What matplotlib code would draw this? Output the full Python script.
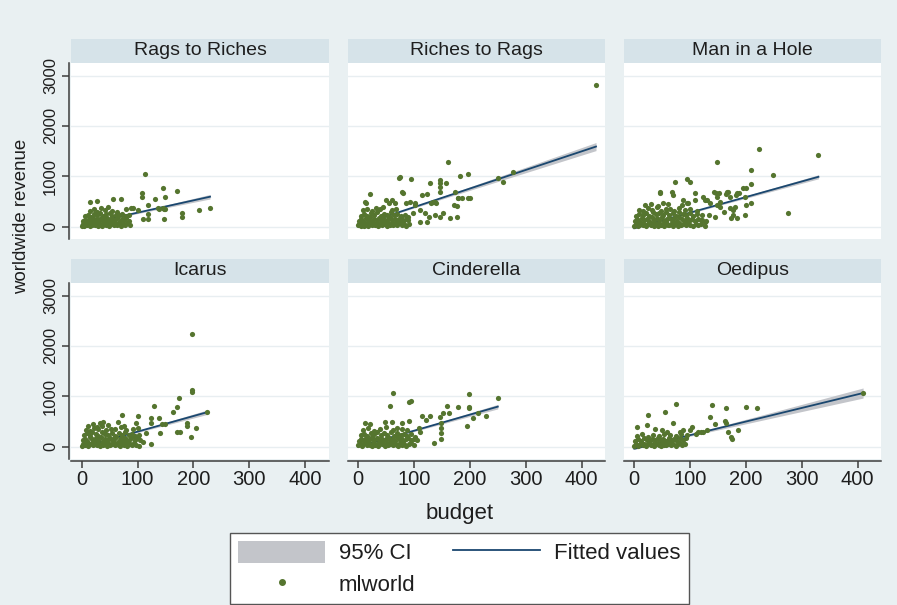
import numpy as np
import matplotlib.pyplot as plt
from matplotlib.patches import Patch, Rectangle
from matplotlib.lines import Line2D

# ==========================
# Data
# ==========================
panel_titles = ["Rags to Riches", "Riches to Rags", "Man in a Hole",
                "Icarus", "Cinderella", "Oedipus"]

# Rags to Riches
rags_budget = [
    1, 3, 5, 7, 9, 11, 14, 16, 18, 21, 24, 26, 29, 31, 34, 37, 40, 43, 46, 49, 52, 55, 58, 61, 64, 67, 70, 74, 78, 82, 86,
    2, 6, 10, 13, 17, 20, 24, 27, 31, 35, 38, 42, 45, 49, 53, 56, 60, 64, 68, 72, 76, 80, 85,
    6, 11, 17, 22, 28, 33, 38, 44, 50, 55, 61, 66, 72, 78, 84,
    15, 22, 28, 35, 41, 47, 55, 63,
    114, 14, 28, 56, 70, 79, 89, 100, 108, 108,
    119, 131, 145, 150, 170, 110, 119, 148, 148, 139,
    118, 150, 179, 179, 210, 230, 137, 146, 92, 44,
]
rags_revenue = [
    20, 45, 10, 60, 30, 75, 15, 50, 35, 80, 25, 55, 10, 65, 40, 20, 70, 30, 55, 15, 45, 80, 25, 60, 35, 70, 20, 50, 40, 65, 30,
    110, 140, 100, 160, 120, 175, 105, 150, 130, 170, 115, 145, 180, 110, 160, 125, 140, 170, 110, 150, 130, 165, 120,
    210, 240, 200, 260, 230, 280, 215, 250, 270, 205, 240, 225, 260, 210, 235,
    310, 350, 300, 380, 330, 400, 320, 290,
    1041, 485, 512, 551, 551, 352, 378, 332, 676, 596,
    425, 551, 763, 596, 710, 147, 147, 147, 346, 346,
    252, 346, 265, 199, 332, 378, 365, 365, 365, 120,
]

# Riches to Rags
riches_budget = [
    0, 2, 4, 6, 8, 10, 12, 14, 16, 18, 20, 22, 25, 28, 30, 33, 36, 39, 42, 45, 48, 51, 54, 57, 60, 63, 66, 70, 74, 78, 82, 86, 90,
    1, 5, 9, 13, 17, 21, 25, 29, 33, 37, 41, 45, 49, 53, 57, 61, 65, 69, 73, 77, 81, 85, 89,
    4, 10, 16, 22, 28, 34, 40, 46, 52, 58, 64, 70, 76, 84,
    8, 15, 24, 31, 38, 45, 60, 68,
    21, 12, 50, 55, 78, 81, 75, 73, 94, 93,
    102, 115, 124, 128, 146, 146, 146, 146, 158, 160,
    182, 197, 134, 140, 173, 179, 197, 171, 110, 120,
    126, 137, 146, 152, 164, 176, 111, 123, 250, 259,
    277, 426, 65, 86, 101, 131, 137, 179, 186, 201,
    176, 13, 60, 89, 98,
]
riches_revenue = [
    30, 60, 10, 45, 80, 20, 55, 35, 70, 15, 50, 90, 25, 60, 40, 75, 20, 55, 30, 85, 45, 15, 65, 35, 80, 25, 55, 40, 70, 30, 60, 20, 50,
    120, 150, 110, 170, 135, 190, 115, 160, 140, 180, 125, 165, 105, 150, 190, 130, 160, 115, 145, 175, 120, 155, 130,
    220, 250, 205, 270, 230, 290, 215, 260, 240, 300, 225, 255, 210, 240,
    330, 360, 320, 380, 345, 400, 330, 350,
    644, 485, 531, 471, 696, 663, 994, 962, 942, 497,
    431, 630, 650, 862, 928, 862, 795, 696, 862, 1286,
    1014, 1041, 497, 477, 696, 564, 564, 431, 332, 266,
    199, 232, 199, 266, 167, 199, 99, 99, 975, 895,
    1094, 2805, 464, 464, 464, 477, 497, 564, 564, 564,
    418, 464, 530, 199, 278,
]

# Man in a Hole
man_budget = [
    0, 3, 6, 9, 12, 15, 18, 21, 24, 27, 30, 33, 36, 39, 42, 45, 48, 51, 54, 57, 60, 63, 66, 69, 72, 75, 78, 81, 84, 88, 92, 96, 100, 105, 110, 115, 120, 126,
    1, 5, 9, 14, 18, 23, 27, 32, 36, 41, 45, 50, 54, 59, 63, 68, 72, 77, 81, 86, 90, 95, 99, 104, 109, 114, 120, 128,
    3, 9, 15, 21, 27, 33, 39, 45, 51, 57, 63, 69, 75, 81, 87, 93, 99, 106, 113, 121,
    8, 16, 24, 32, 40, 48, 56, 64, 72, 80, 90, 100, 112,
    20, 30, 42, 52, 60, 85, 95,
    149, 73, 94, 100, 46, 46, 67, 70, 109, 109,
    88, 97, 127, 136, 151, 148, 166, 171, 184, 171,
    177, 184, 201, 199, 200, 154, 160, 133, 145, 122,
    127, 224, 330, 209, 249, 209, 195, 188, 183, 275,
    209, 198, 174, 180, 177, 142, 146, 168, 164, 124,
    130, 154, 148,
]
man_revenue = [
    20, 55, 10, 40, 75, 25, 60, 15, 45, 80, 30, 65, 10, 50, 20, 70, 35, 55, 15, 85, 40, 25, 60, 10, 75, 45, 20, 65, 35, 55, 25, 70, 40, 15, 60, 30, 50, 20,
    120, 160, 105, 180, 135, 150, 115, 190, 140, 170, 125, 185, 110, 155, 175, 130, 165, 120, 190, 145, 115, 175, 135, 160, 120, 150, 130, 110,
    220, 260, 235, 280, 210, 300, 245, 270, 225, 290, 240, 265, 215, 285, 250, 230, 270, 220, 255, 235,
    340, 310, 370, 330, 390, 320, 360, 345, 310, 380, 330, 355, 320,
    430, 460, 420, 480, 445, 430, 470,
    1286, 895, 942, 882, 663, 696, 696, 630, 663, 531,
    531, 464, 531, 464, 663, 597, 696, 597, 663, 365,
    232, 166, 763, 597, 431, 398, 298, 232, 199, 133,
    99, 1545, 1419, 1127, 1028, 849, 762, 676, 630, 265,
    464, 232, 166, 398, 332, 696, 663, 696, 643, 597,
    530, 497, 431,
]

# Icarus
icarus_budget = [
    0, 3, 6, 9, 12, 15, 18, 21, 24, 27, 30, 33, 36, 39, 42, 45, 48, 51, 54, 57, 60, 63, 66, 69, 72, 75, 78, 81, 84, 87, 90, 94, 98, 102,
    2, 6, 10, 14, 18, 22, 26, 30, 34, 38, 42, 46, 50, 54, 58, 62, 66, 70, 74, 78, 82, 86, 90, 95, 100, 105,
    4, 9, 14, 19, 25, 30, 36, 42, 48, 54, 60, 66, 72, 78, 84, 90, 96, 102,
    8, 15, 22, 29, 36, 44, 52, 60, 70, 80, 92, 100,
    12, 20, 27, 48, 75,
    198, 198, 198, 174, 129, 170, 164, 224, 73, 101,
    65, 125, 139, 125, 144, 150, 98, 188, 188, 204,
    170, 176, 140, 195, 125, 110, 116, 33, 39,
]
icarus_revenue = [
    15, 50, 30, 70, 10, 45, 80, 25, 60, 35, 75, 20, 55, 40, 85, 15, 65, 30, 50, 90, 25, 60, 40, 15, 70, 35, 80, 20, 55, 45, 30, 65, 40, 20,
    130, 160, 110, 185, 145, 120, 170, 135, 195, 115, 160, 140, 180, 125, 150, 190, 110, 165, 140, 175, 120, 155, 185, 130, 165, 140,
    230, 270, 210, 290, 245, 220, 300, 260, 235, 280, 215, 265, 240, 295, 225, 255, 210, 240,
    340, 320, 380, 350, 410, 330, 360, 345, 390, 330, 350, 370,
    420, 445, 400, 430, 410,
    2241, 1127, 1094, 975, 815, 796, 696, 683, 630, 617,
    497, 564, 564, 464, 451, 451, 477, 464, 418, 378,
    298, 298, 265, 186, 53, 99, 265, 464, 484,
]

# Cinderella
cinderella_budget = [
    0, 3, 6, 9, 12, 15, 18, 21, 24, 27, 30, 33, 36, 39, 42, 45, 48, 51, 54, 57, 60, 63, 66, 69, 72, 75, 78, 82, 86, 90, 95, 99,
    1, 5, 9, 13, 17, 21, 25, 29, 33, 37, 41, 45, 49, 53, 57, 61, 65, 69, 73, 77, 81, 85, 89, 94, 99,
    4, 10, 16, 22, 28, 34, 40, 46, 52, 58, 64, 70, 76, 82, 88, 95,
    8, 18, 28, 38, 50, 62, 70, 78, 88,
    63, 56, 90, 94, 198, 250, 159, 179, 199, 199,
    151, 163, 215, 229, 206, 194, 146, 114, 122, 128,
    149, 149, 149, 148, 136, 12, 21, 48, 60, 78,
    90, 108, 111, 102, 106,
]
cinderella_revenue = [
    30, 60, 15, 50, 80, 25, 65, 40, 10, 70, 35, 55, 20, 85, 45, 60, 15, 75, 30, 50, 80, 25, 60, 40, 15, 70, 35, 55, 20, 45, 65, 30,
    120, 160, 135, 180, 110, 150, 190, 125, 165, 140, 175, 115, 155, 185, 130, 160, 120, 190, 145, 170, 115, 150, 180, 135, 160,
    230, 260, 215, 280, 245, 300, 225, 265, 240, 290, 220, 270, 235, 255, 215, 245,
    340, 380, 320, 360, 400, 335, 370, 350, 330,
    1061, 815, 888, 908, 1048, 975, 809, 782, 796, 762,
    676, 663, 663, 610, 564, 418, 597, 610, 530, 610,
    464, 365, 278, 146, 80, 464, 444, 497, 497, 477,
    517, 365, 298, 199, 133,
]

# Oedipus
oedipus_budget = [
    0, 3, 6, 9, 12, 15, 18, 21, 24, 27, 30, 33, 36, 39, 42, 45, 48, 51, 54, 57, 60, 63, 66, 70, 74, 78, 82, 86, 90,
    2, 7, 12, 17, 22, 27, 32, 37, 42, 47, 52, 57, 62, 67, 72, 77, 82, 88,
    5, 14, 24, 34, 44, 54, 64, 74, 84, 95,
    92, 110, 120, 130,
    410, 74, 140, 164, 200, 219, 55, 25, 136, 163,
    164, 69, 22, 4, 37, 49, 58, 145, 103, 100,
    168, 186, 173, 175, 115, 124, 82, 88,
]
oedipus_revenue = [
    20, 50, 10, 40, 70, 25, 55, 15, 45, 80, 30, 60, 20, 50, 75, 35, 10, 65, 40, 25, 55, 85, 30, 60, 20, 45, 70, 35, 50,
    120, 150, 105, 170, 135, 115, 160, 140, 180, 125, 150, 110, 170, 135, 155, 120, 165, 140,
    220, 250, 200, 240, 215, 260, 230, 205, 245, 230,
    170, 260, 300, 330,
    1061, 842, 829, 762, 796, 762, 696, 630, 597, 517,
    477, 477, 431, 398, 345, 332, 298, 451, 398, 332,
    298, 332, 199, 146, 298, 298, 298, 332,
]

# fitted line ends and 95% CI half width at the far end
fit_x_lo = [0, 0, 0, 0, 0, 0]
fit_x_hi = [230, 426, 330, 225, 250, 410]
fit_y_lo = [35, 20, -30, -10, 0, -40]
fit_y_hi = [595, 1590, 990, 685, 795, 1065]
ci_end = [45, 80, 40, 45, 45, 100]
ci_mid = 12

budgets = [rags_budget, riches_budget, man_budget,
           icarus_budget, cinderella_budget, oedipus_budget]
revenues = [rags_revenue, riches_revenue, man_revenue,
            icarus_revenue, cinderella_revenue, oedipus_revenue]

# ==========================
# Style
# ==========================
plt.rcParams['font.family'] = ['Liberation Sans', 'DejaVu Sans']

BG = '#e9f0f2'
HEADER = '#d6e3e9'
GREEN = '#55752f'
NAVY = '#1a476f'
CI_COLOR = '#c3c5ca'
GRID = '#e8eef1'
AXIS = '#3c3c3c'
TEXT = '#1e1e1e'

W, H = 897, 605
XLIM = (-19, 443)
YLIM = (-250, 3255)
PX_X = 0.558    # pixels per budget unit
PX_Y = 0.0504   # pixels per revenue unit
col_zero = [81.7, 358.3, 634.3]
row_zero = [226.7, 446.7]


def fig_box(x_px, top_px, w_px, h_px):
    return [x_px / W, 1 - (top_px + h_px) / H, w_px / W, h_px / H]


fig = plt.figure(figsize=(W / 100, H / 100), dpi=100, facecolor=BG)

for i, title in enumerate(panel_titles):
    r, c = divmod(i, 3)
    left = col_zero[c] + XLIM[0] * PX_X
    width = (XLIM[1] - XLIM[0]) * PX_X
    top = row_zero[r] - YLIM[1] * PX_Y
    height = (YLIM[1] - YLIM[0]) * PX_Y

    ax = fig.add_axes(fig_box(left, top, width, height))
    ax.set_facecolor('white')
    ax.set_xlim(*XLIM)
    ax.set_ylim(*YLIM)

    # CI band and fitted line
    xs = np.linspace(fit_x_lo[i], fit_x_hi[i], 60)
    ys = fit_y_lo[i] + (fit_y_hi[i] - fit_y_lo[i]) * (xs - fit_x_lo[i]) / (fit_x_hi[i] - fit_x_lo[i])
    xc = 40
    t = (xs - xc) / (fit_x_hi[i] - xc)
    hw = np.sqrt(ci_mid ** 2 + (ci_end[i] ** 2 - ci_mid ** 2) * t ** 2)
    ax.fill_between(xs, ys - hw, ys + hw, color=CI_COLOR, lw=0, zorder=2)
    ax.plot([fit_x_lo[i], fit_x_hi[i]], [fit_y_lo[i], fit_y_hi[i]],
            color=NAVY, lw=1.3, zorder=2.5)

    # scatter
    ax.scatter(budgets[i], revenues[i], s=14, color=GREEN, linewidths=0, zorder=3)

    # axes
    ax.set_yticks([0, 1000, 2000, 3000])
    ax.set_xticks([0, 100, 200, 300, 400])
    ax.set_axisbelow(True)
    ax.yaxis.grid(True, color=GRID, lw=1.0)
    for s in ['top', 'right']:
        ax.spines[s].set_visible(False)

    if c == 0:
        ax.spines['left'].set_position(('outward', 1.5))
        ax.spines['left'].set_color(AXIS)
        ax.spines['left'].set_linewidth(1.1)
        ax.tick_params(axis='y', length=5, width=1.1, color=AXIS,
                       labelsize=12, labelcolor=TEXT, labelrotation=90, pad=3)
        for lab in ax.get_yticklabels():
            lab.set_va('center')
    else:
        ax.spines['left'].set_visible(False)
        ax.tick_params(axis='y', left=False, labelleft=False)

    if r == 1:
        ax.spines['bottom'].set_position(('outward', 1.5))
        ax.spines['bottom'].set_color(AXIS)
        ax.spines['bottom'].set_linewidth(1.1)
        ax.tick_params(axis='x', length=5, width=1.1, color=AXIS,
                       labelsize=14.5, labelcolor=TEXT, pad=1)
    else:
        ax.spines['bottom'].set_visible(False)
        ax.tick_params(axis='x', bottom=False, labelbottom=False)

    # panel header
    fig.add_artist(Rectangle((left / W, 1 - top / H), width / W, 24 / H,
                             transform=fig.transFigure, facecolor=HEADER,
                             edgecolor='none'))
    fig.text((left + width / 2) / W, 1 - (top - 12.5) / H, title,
             ha='center', va='center', fontsize=14, color=TEXT)

# axis titles
fig.text(22 / W, 1 - 216 / H, 'worldwide revenue', rotation=90,
         ha='center', va='center', fontsize=13.4, color=TEXT)
fig.text(459.5 / W, 1 - 513 / H, 'budget', ha='center', va='center',
         fontsize=16, color=TEXT)

# legend
handles = [Patch(facecolor=CI_COLOR, edgecolor='none'),
           Line2D([], [], marker='o', ls='none', color=GREEN, markersize=4),
           Line2D([], [], color=NAVY, lw=1.3)]
labels = ['95% CI', 'mlworld', 'Fitted values']
leg = fig.legend(handles, labels, loc='upper center',
                 bbox_to_anchor=(459.5 / W, 1 - 533 / H), ncol=2,
                 fontsize=16, frameon=True, fancybox=False,
                 edgecolor='#555555', facecolor='white', framealpha=1,
                 handlelength=3.9, handleheight=1.13, handletextpad=0.63,
                 columnspacing=1.7, borderpad=0.36, labelspacing=0.36,
                 borderaxespad=0)
leg.get_frame().set_linewidth(1.0)
for txt in leg.get_texts():
    txt.set_color(TEXT)

plt.savefig("out.png", dpi=100, facecolor=BG)
